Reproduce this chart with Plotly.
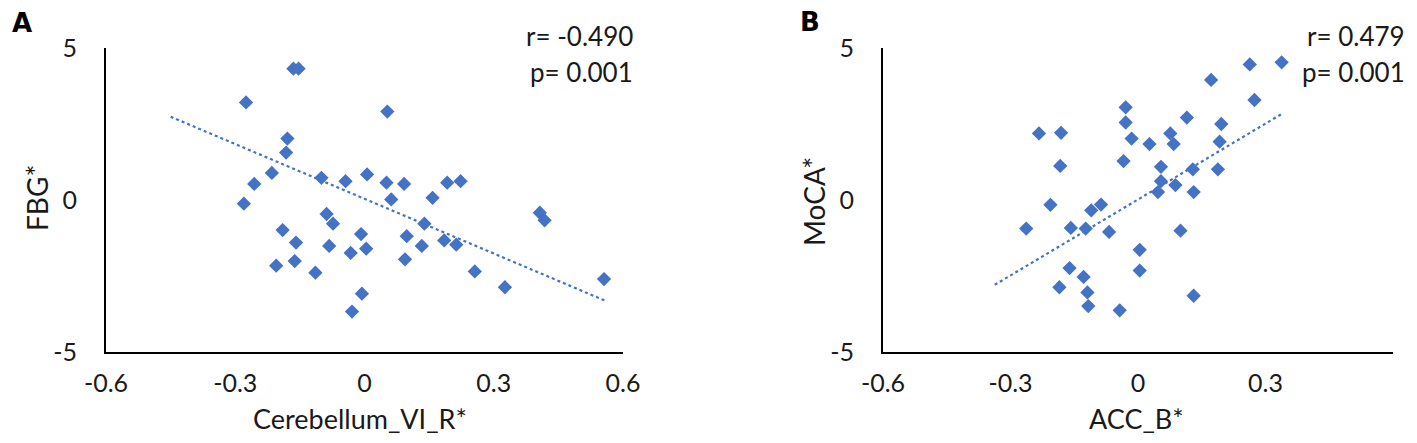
import plotly.graph_objects as go
from plotly.subplots import make_subplots

# Panel A: Cerebellum_VI_R* vs FBG*
cereb_x = [-0.275, -0.165, -0.153, 0.053, -0.179, -0.182, -0.215, -0.256, -0.280, -0.100,
           -0.044, 0.006, 0.051, 0.092, 0.062, 0.192, 0.223, 0.158, -0.088, -0.073,
           -0.190, -0.159, -0.082, -0.008, 0.004, -0.032, 0.139, 0.098, 0.133, 0.185,
           0.213, 0.094, -0.205, -0.162, -0.114, 0.256, 0.326, 0.556, -0.006, -0.029,
           0.407, 0.418]
fbg_y = [3.21, 4.32, 4.32, 2.91, 2.02, 1.56, 0.89, 0.53, -0.12, 0.73,
         0.62, 0.84, 0.57, 0.53, 0.02, 0.57, 0.62, 0.07, -0.46, -0.78,
         -0.99, -1.40, -1.51, -1.12, -1.60, -1.74, -0.78, -1.19, -1.51, -1.33,
         -1.47, -1.95, -2.16, -2.01, -2.39, -2.35, -2.87, -2.60, -3.08, -3.67,
         -0.42, -0.67]

# Panel B: ACC_B* vs MoCA*
acc_x = [0.263, 0.338, 0.172, 0.274, -0.029, -0.029, 0.115, 0.196, -0.233, -0.181,
         -0.015, 0.027, 0.076, 0.084, 0.192, -0.034, -0.183, 0.054, 0.129, 0.188,
         0.054, 0.088, 0.047, 0.131, -0.206, -0.110, -0.087, -0.263, -0.158, -0.123,
         -0.068, 0.100, 0.004, 0.004, -0.161, -0.128, -0.185, -0.119, -0.117, -0.043,
         0.131]
moca_y = [4.46, 4.53, 3.95, 3.29, 3.05, 2.55, 2.71, 2.50, 2.19, 2.21,
          2.02, 1.84, 2.19, 1.84, 1.92, 1.28, 1.12, 1.09, 1.01, 1.01,
          0.62, 0.49, 0.26, 0.26, -0.16, -0.34, -0.15, -0.94, -0.92, -0.94,
          -1.05, -1.01, -1.64, -2.32, -2.24, -2.53, -2.87, -3.04, -3.49, -3.63,
          -3.15]

# trendlines as drawn in the figure (end points)
trend_a_x = [-0.45, 0.56]
trend_a_y = [2.74, -3.32]
trend_b_x = [-0.337, 0.338]
trend_b_y = [-2.79, 2.83]

stats_a = ["r= -0.490", "p= 0.001"]
stats_b = ["r= 0.479", "p= 0.001"]

x_ticks = [-0.6, -0.3, 0, 0.3, 0.6]
x_ticktext = ["-0.6", "-0.3", "0", "0.3", "0.6"]
y_ticks = [-5, 0, 5]
y_ticktext = ["-5", "0", "5"]

blue = "#4472C4"
font = "Lato"
txtcol = "#1a1a1a"

# page body has an 8px margin, so the figure is a bit smaller than the window
W, H = 1401, 427


def px(wx):
    return (wx - 8) / W


def py(wy):
    return 1 - (wy - 8) / H


fig = make_subplots(rows=1, cols=2)

panels = [
    (cereb_x, fbg_y, trend_a_x, trend_a_y, 1),
    (acc_x, moca_y, trend_b_x, trend_b_y, 2),
]
for xs, ys, tx, ty, col in panels:
    fig.add_trace(go.Scatter(x=tx, y=ty, mode="lines",
                             line=dict(color=blue, width=2.2, dash="dot"),
                             showlegend=False, hoverinfo="skip"), row=1, col=col)
    fig.add_trace(go.Scatter(x=xs, y=ys, mode="markers",
                             marker=dict(symbol="diamond", size=11, color=blue),
                             showlegend=False), row=1, col=col)

axis_common = dict(showgrid=False, zeroline=False, showline=True, linecolor="black",
                   linewidth=1.8, ticks="", automargin=False,
                   tickfont=dict(family=font, size=25, color=txtcol))
fig.update_xaxes(range=[-0.6, 0.6], tickvals=x_ticks, ticktext=x_ticktext,
                 ticklabelstandoff=8, **axis_common)
fig.update_yaxes(range=[-5, 5], tickvals=y_ticks, ticktext=y_ticktext,
                 ticklabelstandoff=22, **axis_common)

fig.update_xaxes(domain=[px(106), px(623)], row=1, col=1)
fig.update_xaxes(domain=[px(883), px(1393)], row=1, col=2)
fig.update_yaxes(domain=[py(352), py(48)], row=1, col=1)
fig.update_yaxes(domain=[py(352), py(48)], row=1, col=2)

annots = []


def note(text, x, y, xanchor="center", size=28, angle=0, family=font, color=txtcol):
    annots.append(dict(text=text, x=px(x), y=py(y), xref="paper", yref="paper",
                       xanchor=xanchor, yanchor="middle", showarrow=False,
                       textangle=angle, font=dict(family=family, size=size, color=color)))


# axis titles
note("Cerebellum_VI_R*", 360, 418, size=27)
note("ACC_B*", 1136, 418, size=27)
note("FBG*", 37, 198, angle=-90)
note("MoCA*", 814, 202, angle=-90)

# statistics
for stats, xr in [(stats_a, 635), (stats_b, 1407)]:
    note(stats[0], xr, 36, xanchor="right", size=26)
    note(stats[1], xr, 72, xanchor="right", size=26)

# panel letters
note("<b>A</b>", 10, 23, xanchor="left", size=26, family="DejaVu Sans", color="black")
note("<b>B</b>", 798, 22, xanchor="left", size=26, family="DejaVu Sans", color="black")

fig.update_layout(width=W, height=H, margin=dict(l=0, r=0, t=0, b=0),
                  plot_bgcolor="white", paper_bgcolor="white", annotations=annots)

fig.write_html("out.html")
